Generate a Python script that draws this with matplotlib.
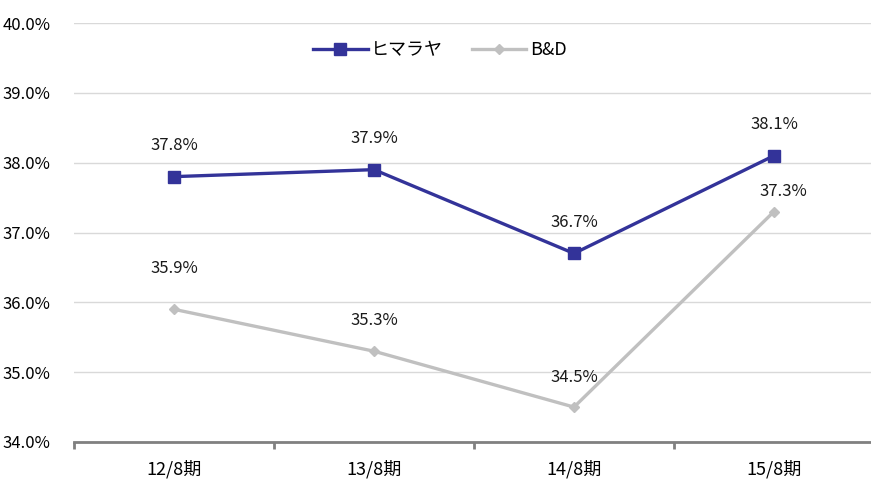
import matplotlib
matplotlib.use("Agg")
import matplotlib.pyplot as plt
from matplotlib.ticker import FixedLocator, NullFormatter, FuncFormatter

plt.rcParams['font.family'] = ['Noto Sans CJK JP', 'DejaVu Sans']

categories = ["12/8期", "13/8期", "14/8期", "15/8期"]
himalaya = [37.8, 37.9, 36.7, 38.1]
bd = [35.9, 35.3, 34.5, 37.3]
series_names = ["ヒマラヤ", "B&D"]
yticks = [34, 35, 36, 37, 38, 39, 40]

FS = 12
fig = plt.figure(figsize=(8.71, 4.79), dpi=100)
ax = fig.add_axes([74/871, 1-442/479, 800/871, 419/479])
x = list(range(len(categories)))

ax.plot(x, himalaya, color="#333399", lw=2.4, marker="s", ms=8.5, label=series_names[0], zorder=3)
ax.plot(x, bd, color="#C0C0C0", lw=2.4, marker="D", ms=5.5, label=series_names[1], zorder=3)

h_off = [(0, 16), (0, 16), (0, 16), (0, 16)]
b_off = [(0, 23), (0, 16), (0, 15), (7, 8)]
for i, v in enumerate(himalaya):
    ax.annotate(f"{v:.1f}%", (x[i], v), xytext=h_off[i], textcoords="offset points",
                ha="center", va="bottom", fontsize=FS, color="#1a1a1a")
for i, v in enumerate(bd):
    ax.annotate(f"{v:.1f}%", (x[i], v), xytext=b_off[i], textcoords="offset points",
                ha="center", va="bottom", fontsize=FS, color="#1a1a1a")

ax.set_xlim(-0.5, len(categories) - 0.5)
ax.set_ylim(34, 40)
ax.set_yticks(yticks)
ax.yaxis.set_major_formatter(FuncFormatter(lambda v, p: f"{v:.1f}%"))
ax.tick_params(axis="y", length=0, pad=17, labelsize=FS)
ax.grid(axis="y", color="#D9D9D9", lw=1)
ax.set_axisbelow(True)

ax.xaxis.set_major_locator(FixedLocator([i - 0.5 for i in range(len(categories) + 1)]))
ax.xaxis.set_major_formatter(NullFormatter())
ax.xaxis.set_minor_locator(FixedLocator(x))
ax.set_xticklabels(categories, minor=True)
ax.tick_params(axis="x", which="major", length=5, width=2, color="#808080", direction="out")
ax.tick_params(axis="x", which="minor", length=0, pad=13, labelsize=13)

for s in ["left", "right", "top"]:
    ax.spines[s].set_visible(False)
ax.spines["bottom"].set_color("#808080")
ax.spines["bottom"].set_linewidth(2)

leg = ax.legend(loc="upper center", bbox_to_anchor=(0.4575, 0.995), ncol=2, frameon=False,
                fontsize=13, handlelength=3.0, columnspacing=1.6, handletextpad=0.2)

fig.savefig("out.png", dpi=100)
